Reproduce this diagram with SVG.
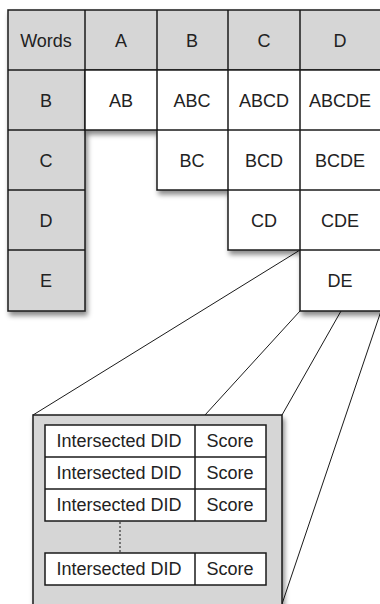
<svg xmlns="http://www.w3.org/2000/svg" width="380" height="604" viewBox="0 0 380 604">
  <defs>
    <filter id="sh" x="-10%" y="-10%" width="130%" height="130%">
      <feDropShadow dx="2" dy="4" stdDeviation="2.5" flood-color="#000" flood-opacity="0.45"/>
    </filter>
  </defs>
  <style>
    .g { fill: #d6d6d6; stroke: #1a1a1a; stroke-width: 1.5; }
    .w { fill: #ffffff; stroke: #1a1a1a; stroke-width: 1.5; }
    .ln { stroke: #1a1a1a; stroke-width: 1.5; fill: none; }
    .t { font-family: "Liberation Sans", Arial, sans-serif; font-size: 18px; fill: #222; text-anchor: middle; }
    .c { stroke: #1a1a1a; stroke-width: 1; fill: none; }
  </style>
  <rect width="380" height="604" fill="#ffffff"/>

  <g id="connectors">
    <line class="c" x1="300" y1="250" x2="33" y2="415"/>
    <line class="c" x1="300" y1="311" x2="205" y2="415"/>
    <line class="c" x1="341" y1="311" x2="282" y2="415"/>
    <line class="c" x1="381" y1="311" x2="282" y2="604"/>
  </g>

  <g id="headers">
    <polygon class="g" filter="url(#sh)" points="8,10 382,10 382,70 85,70 85,311 8,311"/>
    <line class="ln" x1="85" y1="10" x2="85" y2="70"/>
    <line class="ln" x1="157" y1="10" x2="157" y2="70"/>
    <line class="ln" x1="228" y1="10" x2="228" y2="70"/>
    <line class="ln" x1="300" y1="10" x2="300" y2="70"/>
    <line class="ln" x1="8" y1="70" x2="85" y2="70"/>
    <line class="ln" x1="8" y1="130" x2="85" y2="130"/>
    <line class="ln" x1="8" y1="190" x2="85" y2="190"/>
    <line class="ln" x1="8" y1="250" x2="85" y2="250"/>
    <text class="t" x="46" y="47">Words</text>
    <text class="t" x="121" y="47">A</text>
    <text class="t" x="192" y="47">B</text>
    <text class="t" x="264" y="47">C</text>
    <text class="t" x="340" y="47">D</text>
    <text class="t" x="46" y="107">B</text>
    <text class="t" x="46" y="167">C</text>
    <text class="t" x="46" y="227">D</text>
    <text class="t" x="46" y="287">E</text>
  </g>

  <g id="pairs">
    <polygon class="w" filter="url(#sh)" points="85,70 382,70 382,311 300,311 300,250 228,250 228,190 157,190 157,130 85,130"/>
    <line class="ln" x1="157" y1="70" x2="157" y2="130"/>
    <line class="ln" x1="228" y1="70" x2="228" y2="190"/>
    <line class="ln" x1="300" y1="70" x2="300" y2="250"/>
    <line class="ln" x1="157" y1="130" x2="382" y2="130"/>
    <line class="ln" x1="228" y1="190" x2="382" y2="190"/>
    <line class="ln" x1="300" y1="250" x2="382" y2="250"/>
    <text class="t" x="121" y="107">AB</text>
    <text class="t" x="192" y="107">ABC</text>
    <text class="t" x="264" y="107">ABCD</text>
    <text class="t" x="340" y="107">ABCDE</text>
    <text class="t" x="192" y="167">BC</text>
    <text class="t" x="264" y="167">BCD</text>
    <text class="t" x="340" y="167">BCDE</text>
    <text class="t" x="264" y="227">CD</text>
    <text class="t" x="340" y="227">CDE</text>
    <text class="t" x="340" y="287">DE</text>
  </g>

  <g id="detail">
    <rect class="g" filter="url(#sh)" x="33" y="415" width="249" height="200"/>
    <rect class="w" x="45" y="425" width="221" height="96"/>
    <line class="ln" x1="45" y1="457" x2="266" y2="457"/>
    <line class="ln" x1="45" y1="489" x2="266" y2="489"/>
    <line class="ln" x1="195" y1="425" x2="195" y2="521"/>
    <rect class="w" x="45" y="553" width="221" height="32"/>
    <line class="ln" x1="195" y1="553" x2="195" y2="585"/>
    <line x1="120" y1="522" x2="120" y2="553" stroke="#333" stroke-width="1.2" stroke-dasharray="2,2"/>
    <text class="t" x="119" y="447">Intersected DID</text>
    <text class="t" x="230" y="447">Score</text>
    <text class="t" x="119" y="479">Intersected DID</text>
    <text class="t" x="230" y="479">Score</text>
    <text class="t" x="119" y="511">Intersected DID</text>
    <text class="t" x="230" y="511">Score</text>
    <text class="t" x="119" y="575">Intersected DID</text>
    <text class="t" x="230" y="575">Score</text>
  </g>
</svg>
